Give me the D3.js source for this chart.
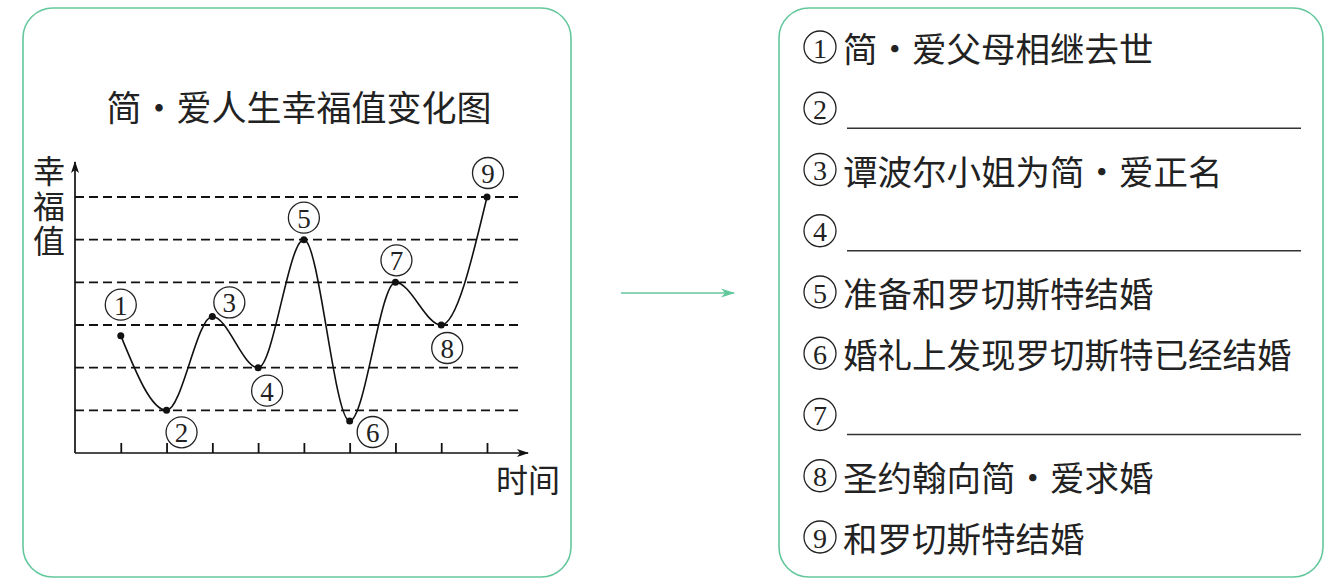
<!DOCTYPE html>
<html>
<head>
<meta charset="utf-8">
<script src="https://cdn.jsdelivr.net/npm/d3@7"></script>
<style>
  html, body { margin: 0; padding: 0; background: #fff; }
  svg { display: block; }
</style>
</head>
<body>
<div id="chart"></div>
<script>
// values
const stages = [1, 2, 3, 4, 5, 6, 7, 8, 9];
const happiness = [2.75, 1, 3.2, 2, 5, 0.75, 4, 3, 6];
const gridLevels = [1, 2, 3, 4, 5, 6];
const stageNotes = [
  '简・爱父母相继去世',
  '',
  '谭波尔小姐为简・爱正名',
  '',
  '准备和罗切斯特结婚',
  '婚礼上发现罗切斯特已经结婚',
  '',
  '圣约翰向简・爱求婚',
  '和罗切斯特结婚'
];
const chartTitle = '简・爱人生幸福值变化图';
const yTitle = '幸福值';
const xTitle = '时间';

// where each circled number sits relative to its point
const labelOffsets = [[0, -31], [15, 22], [17, -14], [9, 23], [0, -22], [23, 11], [1, -22], [6, 23], [1, -24]];

const width = 1326, height = 585;
const green = '#63c79c';
const cjk = '"Noto Sans CJK SC", sans-serif';
const serif = '"Liberation Serif", "DejaVu Serif", serif';

const svg = d3.select('#chart').append('svg')
  .attr('width', width)
  .attr('height', height)
  .style('background', '#fff');

const defs = svg.append('defs');
defs.append('marker')
  .attr('id', 'axis-arrow')
  .attr('viewBox', '0 -5 12 10')
  .attr('refX', 11).attr('refY', 0)
  .attr('markerUnits', 'userSpaceOnUse')
  .attr('markerWidth', 12).attr('markerHeight', 10)
  .attr('orient', 'auto')
  .append('path')
    .attr('d', 'M0,-4L12,0L0,4L3,0Z')
    .attr('fill', '#111');
defs.append('marker')
  .attr('id', 'green-arrow')
  .attr('viewBox', '0 -5 14 10')
  .attr('refX', 13).attr('refY', 0)
  .attr('markerUnits', 'userSpaceOnUse')
  .attr('markerWidth', 14).attr('markerHeight', 10)
  .attr('orient', 'auto')
  .append('path')
    .attr('d', 'M0,-4.5L14,0L0,4.5L4,0Z')
    .attr('fill', green);

// two rounded frames
svg.append('rect')
  .attr('x', 23).attr('y', 8)
  .attr('width', 548).attr('height', 569)
  .attr('rx', 30)
  .attr('fill', 'none').attr('stroke', green).attr('stroke-width', 1.6);
svg.append('rect')
  .attr('x', 779).attr('y', 8)
  .attr('width', 544).attr('height', 569)
  .attr('rx', 30)
  .attr('fill', 'none').attr('stroke', green).attr('stroke-width', 1.6);

// arrow between frames
svg.append('line')
  .attr('x1', 621).attr('y1', 293)
  .attr('x2', 734).attr('y2', 293)
  .attr('stroke', green).attr('stroke-width', 1.6)
  .attr('marker-end', 'url(#green-arrow)');

// ---- left chart ----
const x = d3.scaleLinear().domain([0, 9]).range([75, 487]);
const y = d3.scaleLinear().domain([0, 6]).range([453, 197]);

svg.append('text')
  .attr('x', 299).attr('y', 105)
  .attr('text-anchor', 'middle')
  .attr('dominant-baseline', 'central')
  .style('font-family', cjk).style('font-size', '35px')
  .attr('fill', '#222')
  .text(chartTitle);

svg.append('g')
  .selectAll('line')
  .data(gridLevels)
  .join('line')
    .attr('x1', x(0)).attr('x2', 520)
    .attr('y1', d => y(d)).attr('y2', d => y(d))
    .attr('stroke', '#111').attr('stroke-width', 1.8)
    .attr('stroke-dasharray', '9,5');

const xAxis = svg.append('g')
  .attr('transform', `translate(0,${y(0)})`)
  .call(d3.axisBottom(x).tickValues(stages).tickSizeInner(-10).tickSizeOuter(0).tickFormat(''));
xAxis.select('.domain').remove();
xAxis.selectAll('.tick line').attr('stroke', '#111').attr('stroke-width', 1.8);

svg.append('line')
  .attr('x1', x(0)).attr('y1', y(0))
  .attr('x2', 528).attr('y2', y(0))
  .attr('stroke', '#111').attr('stroke-width', 1.7)
  .attr('marker-end', 'url(#axis-arrow)');
svg.append('line')
  .attr('x1', x(0)).attr('y1', y(0))
  .attr('x2', x(0)).attr('y2', 162)
  .attr('stroke', '#111').attr('stroke-width', 1.7)
  .attr('marker-end', 'url(#axis-arrow)');

// vertical axis title, written top to bottom
svg.append('text')
  .attr('x', 49).attr('y', 155)
  .style('writing-mode', 'vertical-rl')
  .style('letter-spacing', '3px')
  .style('font-family', cjk).style('font-size', '32px')
  .attr('fill', '#222')
  .text(yTitle);

svg.append('text')
  .attr('x', 528).attr('y', 478)
  .attr('text-anchor', 'middle')
  .attr('dominant-baseline', 'central')
  .style('font-family', cjk).style('font-size', '32px')
  .attr('fill', '#222')
  .text(xTitle);

const points = stages.map((s, i) => ({stage: s, value: happiness[i]}));

const line = d3.line()
  .x(d => x(d.stage))
  .y(d => y(d.value))
  .curve(d3.curveMonotoneX);

svg.append('path')
  .datum(points)
  .attr('d', line)
  .attr('fill', 'none')
  .attr('stroke', '#111')
  .attr('stroke-width', 1.6);

svg.append('g')
  .selectAll('circle')
  .data(points)
  .join('circle')
    .attr('cx', d => x(d.stage))
    .attr('cy', d => y(d.value))
    .attr('r', 3.5)
    .attr('fill', '#111');

function circledNumber(sel, r, fontSize) {
  sel.append('circle')
    .attr('r', r)
    .attr('fill', 'none')
    .attr('stroke', '#222')
    .attr('stroke-width', 1.3);
  sel.append('text')
    .attr('text-anchor', 'middle')
    .attr('dominant-baseline', 'central')
    .attr('y', 1)
    .style('font-family', serif).style('font-size', fontSize + 'px')
    .attr('fill', '#222')
    .text(d => d.stage);
}

svg.append('g')
  .selectAll('g')
  .data(points)
  .join('g')
    .attr('transform', (d, i) =>
      `translate(${x(d.stage) + labelOffsets[i][0]},${y(d.value) + labelOffsets[i][1]})`)
    .call(circledNumber, 15.5, 27);

// ---- right list ----
const rowY = d3.scalePoint().domain(stages).range([47, 537]);

const rows = svg.append('g')
  .selectAll('g')
  .data(stages.map((s, i) => ({stage: s, note: stageNotes[i]})))
  .join('g')
    .attr('transform', d => `translate(820,${rowY(d.stage)})`);

rows.append('g').call(circledNumber, 16, 28);

rows.filter(d => d.note !== '')
  .append('text')
    .attr('x', 23)
    .attr('dominant-baseline', 'central')
    .style('font-family', cjk).style('font-size', '34.5px')
    .attr('fill', '#222')
    .text(d => d.note);

rows.filter(d => d.note === '')
  .append('line')
    .attr('x1', 27).attr('x2', 481)
    .attr('y1', 20).attr('y2', 20)
    .attr('stroke', '#333').attr('stroke-width', 1.5);
</script>
</body>
</html>
